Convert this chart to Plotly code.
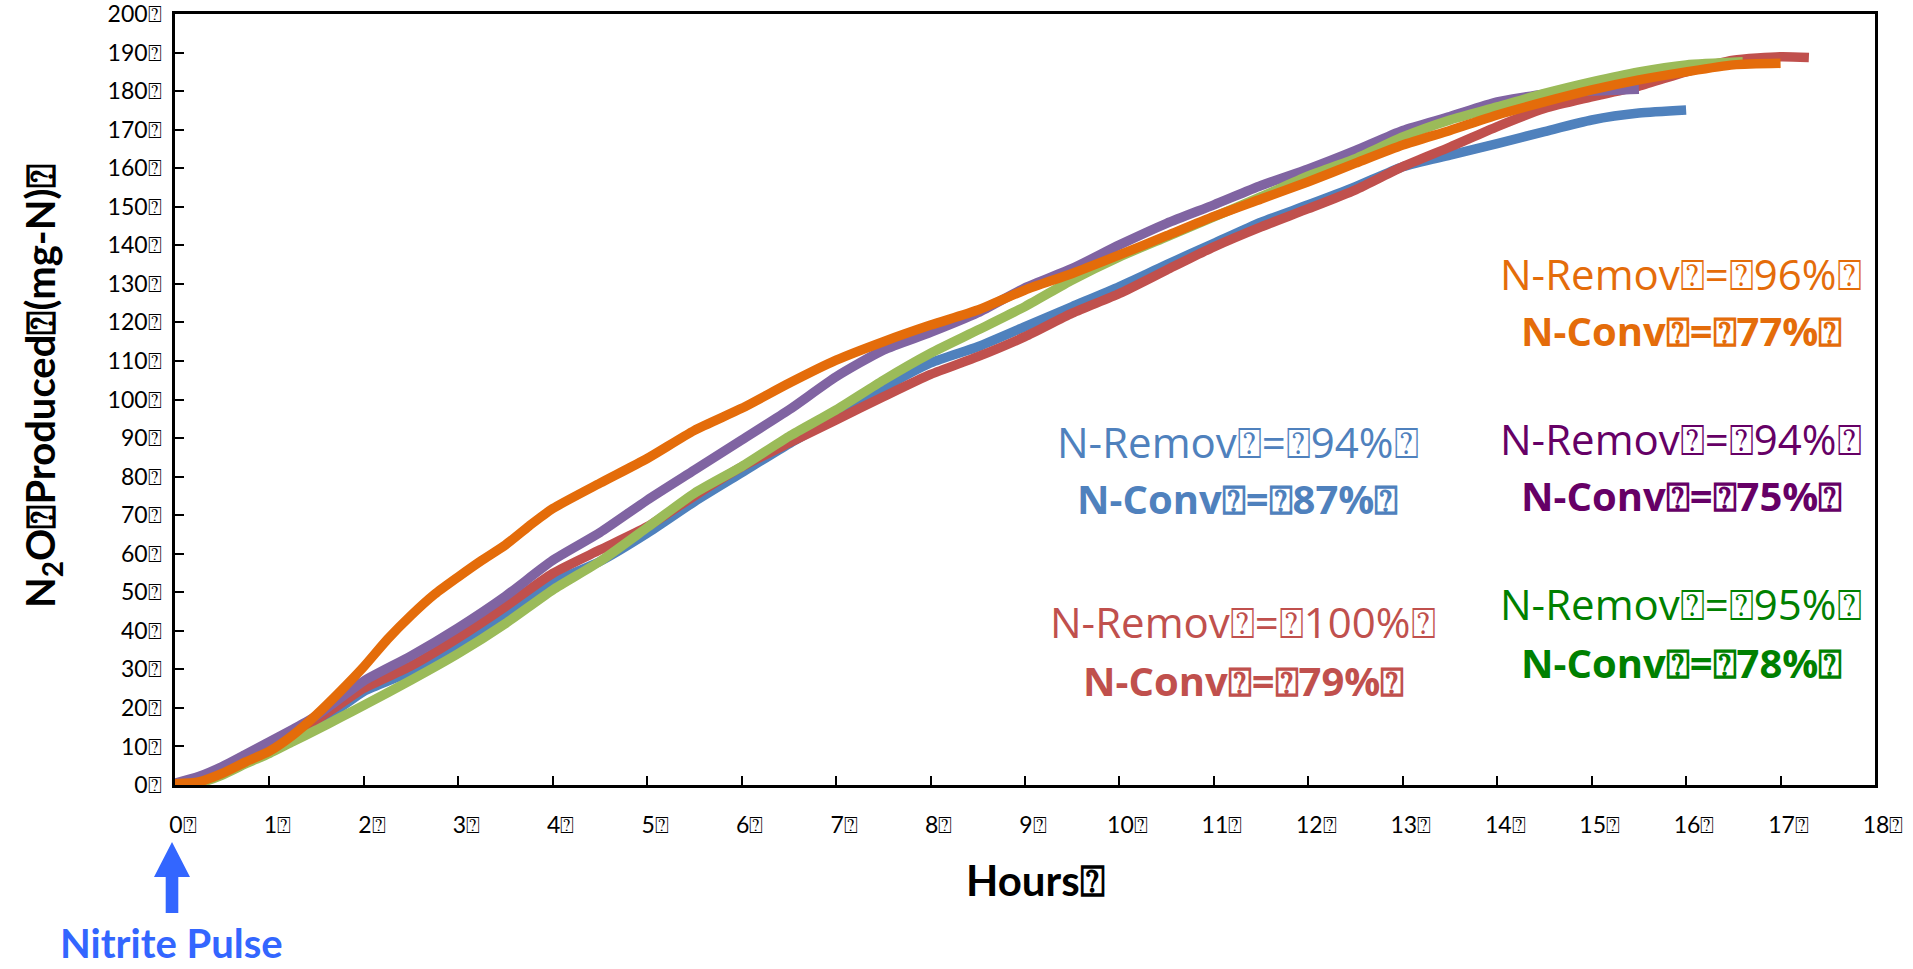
import plotly.graph_objects as go

# ---------------- data ----------------
hours_common = [0, 0.25, 0.5, 0.75, 1, 1.25, 1.5, 1.75, 2, 2.5, 3, 3.5, 4, 4.5, 5, 5.5,
                6, 6.5, 7, 7.5, 8, 8.5, 9, 9.5, 10, 10.5, 11, 11.5, 12, 12.5, 13,
                13.5, 14, 14.5, 15, 15.5]

blue_hours = hours_common + [16.0]
blue_vals = [0, 0.8, 3.3, 6.0, 9.3, 12.5, 16.0, 20.0, 24.3, 29.5, 36.5, 44.3, 52.5, 58.0,
             65.3, 73.5, 81.0, 88.5, 95.5, 103.0, 109.5, 113.7, 118.9, 124.1, 129.3,
             135.0, 140.5, 146.0, 150.5, 155.2, 160.4, 163.4, 166.4, 169.5, 172.5,
             174.3, 175.1]

red_hours = hours_common + [16, 16.5, 17, 17.3]
red_vals = [0, 0.8, 3.5, 6.5, 10.0, 13.5, 16.9, 21.0, 25.1, 30.9, 38.2, 46.3, 54.9, 61.0,
            67.0, 75.0, 82.5, 88.7, 94.7, 100.7, 106.5, 111.1, 116.3, 122.4, 127.5,
            133.6, 139.6, 144.8, 149.5, 154.4, 160.4, 165.5, 170.8, 175.5, 178.5,
            181.3, 185.0, 188.0, 188.9, 188.7]

purple_hours = hours_common
purple_vals = [0.5, 2.2, 4.8, 8.0, 11.2, 14.5, 18.0, 22.5, 27.0, 33.5, 40.8, 49.0, 58.3,
               65.5, 73.9, 81.7, 89.5, 97.3, 105.9, 112.8, 117.4, 122.5, 129.0, 134.0,
               140.1, 145.7, 150.5, 155.5, 159.8, 164.6, 169.8, 173.4, 177.2, 179.2,
               180.0, 180.5]

green_hours = hours_common + [16, 16.6]
green_vals = [0, 0.5, 2.6, 5.5, 8.2, 11.3, 14.3, 17.5, 20.7, 27.2, 34.1, 41.9, 50.6, 58.0,
              66.8, 75.7, 82.6, 90.4, 97.3, 105.0, 112.0, 118.0, 124.1, 131.0, 137.0,
              142.2, 147.4, 152.6, 158.0, 162.5, 168.1, 172.5, 175.9, 179.4, 182.4,
              185.0, 186.8, 187.6]

orange_hours = [0, 0.25, 0.5, 0.75, 1, 1.25, 1.5, 1.75, 2, 2.25, 2.5, 2.75, 3, 3.25, 3.5,
                3.75, 4, 4.5, 5, 5.5, 6, 6.5, 7, 7.5, 8, 8.5, 9, 9.5, 10, 10.5, 11,
                11.5, 12, 12.5, 13, 13.5, 14, 14.5, 15, 15.5, 16, 16.5, 17]
orange_vals = [0.3, 0.8, 3.0, 6.0, 8.8, 13.0, 18.3, 24.3, 30.7, 37.8, 44.0, 49.5, 54.0,
               58.3, 62.3, 67.2, 71.7, 78.3, 84.7, 92.0, 97.7, 104.2, 110.2, 115.0, 119.3,
               123.2, 128.4, 132.7, 137.5, 142.5, 147.5, 152.0, 156.5, 161.3, 166.0,
               169.8, 173.8, 177.2, 180.3, 182.9, 185.0, 186.8, 187.2]

y_tick_vals = list(range(0, 201, 10))
y_tick_text = [f"{v}\u2370" for v in y_tick_vals]
x_tick_vals = list(range(0, 19))
x_tick_text = [f"{v}\u2370" for v in x_tick_vals]

# annotation blocks: (x hour, y line1, y line2, removal text, conversion text, colour)
notes = [
    (11.25, 89.2, 74.2, "N-Remov\u2370=\u237094%\u2370", "N-Conv\u2370=\u237087%\u2370", "#4F81BD"),
    (11.31, 42.3, 27.0, "N-Remov\u2370=\u2370100%\u2370", "N-Conv\u2370=\u237079%\u2370", "#C0504D"),
    (15.95, 132.8, 117.8, "N-Remov\u2370=\u237096%\u2370", "N-Conv\u2370=\u237077%\u2370", "#E46C0A"),
    (15.95, 90.0, 75.0, "N-Remov\u2370=\u237094%\u2370", "N-Conv\u2370=\u237075%\u2370", "#660066"),
    (15.95, 47.0, 31.9, "N-Remov\u2370=\u237095%\u2370", "N-Conv\u2370=\u237078%\u2370", "#008000"),
]

# ---------------- figure ----------------
W, H = 1913, 969
L, R, T, B = 175, 38, 14, 184
PW, PH = W - L - R, H - T - B


def px(x):
    return (x - L) / PW


def py(y):
    return (H - B - y) / PH


fig = go.Figure()
series = [
    (blue_hours, blue_vals, "#4F81BD"),
    (red_hours, red_vals, "#C0504D"),
    (purple_hours, purple_vals, "#8064A2"),
    (green_hours, green_vals, "#9BBB59"),
    (orange_hours, orange_vals, "#E46C0A"),
]
for xs, ys, col in series:
    fig.add_trace(go.Scatter(x=xs, y=ys, mode="lines",
                             line=dict(color=col, width=9.5, shape="spline", smoothing=0.6),
                             cliponaxis=False, showlegend=False, hoverinfo="skip"))

tick_font = dict(family="Lato", size=23, color="black")
fig.update_xaxes(range=[0, 18], tickvals=x_tick_vals, ticktext=x_tick_text,
                 showline=True, linecolor="black", linewidth=2.5, mirror=True,
                 ticks="inside", ticklen=9, tickwidth=2, tickcolor="black",
                 showgrid=False, zeroline=False, tickfont=tick_font,
                 ticklabelstandoff=18, ticklabelshift=8, automargin=False,
                 ticklabeloverflow="allow")
fig.update_yaxes(range=[0, 200], tickvals=y_tick_vals, ticktext=y_tick_text,
                 showline=True, linecolor="black", linewidth=2.5, mirror=True,
                 ticks="inside", ticklen=9, tickwidth=2, tickcolor="black",
                 showgrid=False, zeroline=False, tickfont=tick_font,
                 ticklabelstandoff=6, automargin=False, ticklabeloverflow="allow")

ann = []
for x, y1, y2, t1, t2, col in notes:
    ann.append(dict(x=x, y=y1, xref="x", yref="y", text=t1, showarrow=False,
                    xanchor="center", yanchor="middle",
                    font=dict(family="Open Sans", size=42, color=col)))
    ann.append(dict(x=x, y=y2, xref="x", yref="y", text=f"<b>{t2}</b>", showarrow=False,
                    xanchor="center", yanchor="middle",
                    font=dict(family="Open Sans", size=40, color=col)))

ann.append(dict(x=px(1035), y=py(880), xref="paper", yref="paper",
                xanchor="center", yanchor="middle",
                text="<b>Hours\u2370</b>", showarrow=False,
                font=dict(family="Lato", size=42, color="black")))
ann.append(dict(x=px(43), y=py(386), xref="paper", yref="paper", textangle=-90,
                xanchor="center", yanchor="middle",
                text="<b>N<sub>2</sub>O\u2370Produced\u2370(mg-N)\u2370</b>", showarrow=False,
                font=dict(family="Lato", size=40, color="black")))
ann.append(dict(x=px(171), y=py(968), xref="paper", yref="paper",
                xanchor="center", yanchor="bottom", borderpad=0,
                text="<b>Nitrite Pulse</b>", showarrow=False,
                font=dict(family="Lato", size=40, color="#3366FF")))

# blue arrow above "Nitrite Pulse"
pts = [(172, 842), (190, 877), (178.3, 877), (178.3, 913), (165.7, 913),
       (165.7, 877), (154, 877)]
path = "M " + " L ".join(f"{px(a):.5f},{py(b):.5f}" for a, b in pts) + " Z"
shapes = [dict(type="path", xref="paper", yref="paper", path=path,
               fillcolor="#3366FF", line=dict(width=0))]

fig.update_layout(width=W, height=H, margin=dict(l=L, r=R, t=T, b=B),
                  paper_bgcolor="white", plot_bgcolor="white",
                  annotations=ann, shapes=shapes, showlegend=False)

fig.write_html("out.html")
